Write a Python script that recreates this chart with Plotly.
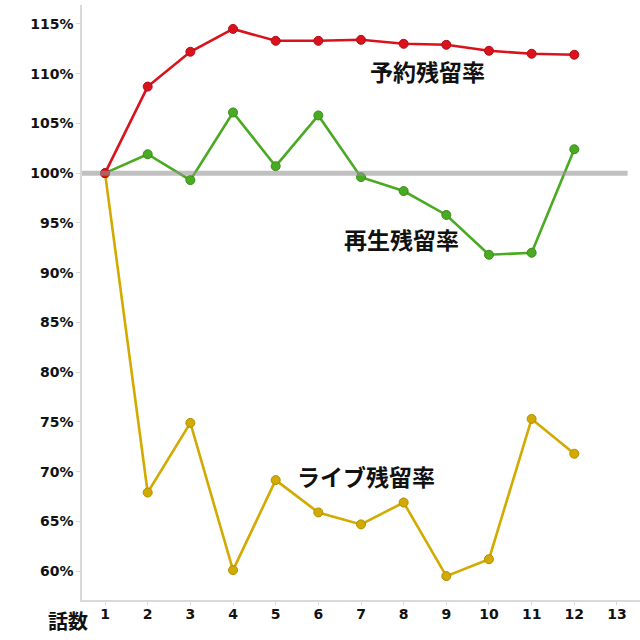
import plotly.graph_objects as go

episodes = [1, 2, 3, 4, 5, 6, 7, 8, 9, 10, 11, 12]
reservation = [100, 108.7, 112.2, 114.5, 113.3, 113.3, 113.4, 113.0, 112.9, 112.3, 112.0, 111.9]
playback = [100, 101.9, 99.3, 106.1, 100.7, 105.8, 99.6, 98.2, 95.8, 91.8, 92.0, 102.4]
live = [100, 67.9, 74.9, 60.1, 69.15, 65.9, 64.7, 66.9, 59.5, 61.2, 75.3, 71.8]

series_names = ["予約残留率", "再生残留率", "ライブ残留率"]
x_ticks = list(range(1, 14))
y_ticks = [60, 65, 70, 75, 80, 85, 90, 95, 100, 105, 110, 115]

colors = ["#d9121c", "#4aaa22", "#d2aa00"]
outlines = ["#b01018", "#3c8c1c", "#b08e00"]

fig = go.Figure()
for vals, c, oc in [(live, colors[2], outlines[2]), (playback, colors[1], outlines[1]), (reservation, colors[0], outlines[0])]:
    fig.add_trace(go.Scatter(
        x=episodes, y=vals, mode="lines+markers",
        line=dict(color=c, width=2.6),
        marker=dict(size=9, color=c, line=dict(color=oc, width=1)),
        showlegend=False, hoverinfo="skip",
    ))

fig.add_shape(type="line", xref="x", yref="y", x0=0.42, x1=13.25, y0=100, y1=100,
              line=dict(color="rgba(150,150,150,0.6)", width=5), layer="above")

label_font = dict(family="Noto Sans CJK JP", size=23, color="#111")
fig.add_annotation(x=8.55, y=110.3, text="<b>" + series_names[0] + "</b>", showarrow=False, font=label_font)
fig.add_annotation(x=7.94, y=93.4, text="<b>" + series_names[1] + "</b>", showarrow=False, font=label_font)
fig.add_annotation(x=7.12, y=69.55, text="<b>" + series_names[2] + "</b>", showarrow=False, font=label_font)
fig.add_annotation(xref="paper", yref="paper", x=-0.025, y=-0.034, text="<b>話数</b>",
                   showarrow=False, xanchor="center", yanchor="middle",
                   font=dict(family="Noto Sans CJK JP", size=20, color="#111"))

fig.update_layout(
    width=640, height=640,
    margin=dict(l=82, r=0, t=5, b=40),
    paper_bgcolor="white", plot_bgcolor="white",
    xaxis=dict(range=[0.46, 13.54], tickvals=x_ticks, ticktext=[str(v) for v in x_ticks],
               showgrid=False, zeroline=False, showline=True, linecolor="#d9d9d9", linewidth=1.5,
               ticks="outside", ticklen=3, tickcolor="#d9d9d9", ticklabelstandoff=-3,
               tickfont=dict(family="DejaVu Sans", size=14, color="#111", weight="bold")),
    yaxis=dict(range=[57.1, 116.9], tickvals=y_ticks, ticktext=[f"{v}%" for v in y_ticks],
               showgrid=False, zeroline=False, showline=True, linecolor="#d9d9d9", linewidth=1.5,
               ticks="outside", ticklen=4, tickcolor="#d9d9d9",
               tickfont=dict(family="DejaVu Sans", size=14, color="#111", weight="bold")),
    hovermode=False,
)

fig.write_html("out.html")
